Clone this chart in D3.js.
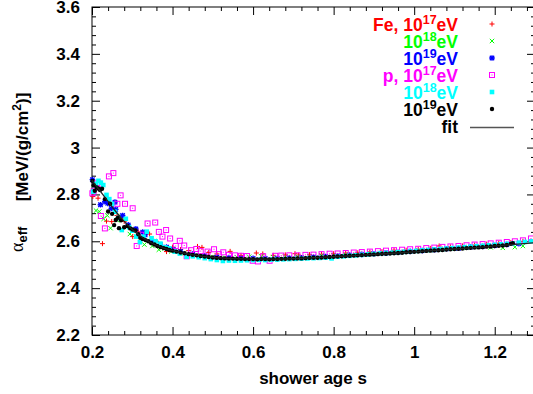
<!DOCTYPE html>
<html>
<head>
<meta charset="utf-8">
<script src="https://cdn.jsdelivr.net/npm/d3@7"></script>
<style>
  body { margin: 0; background: #fff; }
  text { font-family: "Liberation Sans", Arial, sans-serif; font-weight: bold; }
</style>
</head>
<body>
<svg id="chart" width="533" height="394"></svg>
<script>
// ---- data ----
const xTicks = [0.2, 0.4, 0.6, 0.8, 1.0, 1.2];
const yTicks = [2.2, 2.4, 2.6, 2.8, 3.0, 3.2, 3.4, 3.6];

// Fe, 10^17 eV
const fe17Age = [0.202, 0.215, 0.226, 0.236, 0.249, 0.262, 0.280, 0.301, 0.315, 0.343, 0.360, 0.385, 0.400, 0.420, 0.440, 0.462, 0.473, 0.490, 0.510, 0.543, 0.570, 0.608, 0.624, 0.650, 0.680, 0.704, 0.713, 0.740, 0.770, 0.800, 0.830, 0.860, 0.890, 0.920, 0.950, 0.980, 1.010, 1.040, 1.062, 1.090, 1.120, 1.150, 1.180, 1.210, 1.240, 1.270];
const fe17Alpha = [2.791, 2.784, 2.590, 2.686, 2.684, 2.710, 2.685, 2.620, 2.640, 2.631, 2.600, 2.556, 2.575, 2.565, 2.560, 2.578, 2.574, 2.552, 2.546, 2.557, 2.540, 2.550, 2.546, 2.540, 2.542, 2.547, 2.541, 2.543, 2.545, 2.547, 2.550, 2.551, 2.554, 2.556, 2.562, 2.562, 2.566, 2.570, 2.580, 2.576, 2.580, 2.584, 2.588, 2.592, 2.595, 2.600];

// Fe, 10^18 eV
const fe18Age = [0.210, 0.218, 0.229, 0.238, 0.246, 0.262, 0.274, 0.285, 0.294, 0.310, 0.330, 0.350, 0.366, 0.380, 0.397, 0.420, 0.445, 0.470, 0.500, 0.530, 0.560, 0.590, 0.620, 0.650, 0.680, 0.710, 0.740, 0.770, 0.800, 0.830, 0.860, 0.890, 0.920, 0.950, 0.980, 1.010, 1.040, 1.070, 1.100, 1.130, 1.160, 1.190, 1.220, 1.250, 1.270];
const fe18Alpha = [2.731, 2.727, 2.696, 2.710, 2.656, 2.690, 2.706, 2.660, 2.631, 2.620, 2.586, 2.580, 2.564, 2.570, 2.557, 2.550, 2.545, 2.538, 2.533, 2.530, 2.532, 2.534, 2.536, 2.532, 2.534, 2.535, 2.536, 2.539, 2.541, 2.543, 2.546, 2.548, 2.551, 2.553, 2.556, 2.560, 2.563, 2.566, 2.570, 2.573, 2.577, 2.574, 2.572, 2.575, 2.580];

// Fe, 10^19 eV
const fe19Age = [0.201, 0.207, 0.221, 0.232, 0.239, 0.248, 0.257, 0.259, 0.276, 0.290, 0.309, 0.326, 0.332, 0.350, 0.370, 0.385, 0.402, 0.420, 0.450, 0.480, 0.510, 0.540, 0.570, 0.600, 0.630, 0.660, 0.690, 0.720, 0.750, 0.780, 0.810, 0.840, 0.870, 0.900, 0.930, 0.960, 0.990, 1.020, 1.050, 1.080, 1.110, 1.140, 1.170, 1.200, 1.230, 1.260];
const fe19Alpha = [2.863, 2.840, 2.756, 2.769, 2.762, 2.740, 2.767, 2.736, 2.710, 2.670, 2.653, 2.639, 2.627, 2.600, 2.585, 2.575, 2.565, 2.556, 2.546, 2.538, 2.532, 2.529, 2.527, 2.527, 2.527, 2.527, 2.529, 2.530, 2.533, 2.535, 2.538, 2.541, 2.544, 2.547, 2.550, 2.553, 2.557, 2.560, 2.564, 2.568, 2.570, 2.575, 2.578, 2.582, 2.586, 2.590];

// p, 10^17 eV
const p17Age = [0.201, 0.204, 0.212, 0.219, 0.222, 0.232, 0.242, 0.253, 0.263, 0.271, 0.282, 0.301, 0.311, 0.322, 0.338, 0.357, 0.366, 0.375, 0.384, 0.394, 0.408, 0.418, 0.429, 0.435, 0.446, 0.459, 0.470, 0.487, 0.503, 0.515, 0.526, 0.540, 0.555, 0.570, 0.585, 0.599, 0.612, 0.625, 0.641, 0.655, 0.670, 0.690, 0.710, 0.730, 0.750, 0.770, 0.790, 0.810, 0.830, 0.850, 0.870, 0.890, 0.910, 0.930, 0.950, 0.970, 0.990, 1.010, 1.030, 1.050, 1.070, 1.090, 1.110, 1.130, 1.150, 1.170, 1.190, 1.210, 1.230, 1.250, 1.270, 1.290];
const p17Alpha = [2.805, 2.813, 2.847, 2.846, 2.708, 2.655, 2.877, 2.891, 2.760, 2.796, 2.760, 2.741, 2.580, 2.628, 2.676, 2.680, 2.640, 2.620, 2.648, 2.612, 2.580, 2.602, 2.582, 2.536, 2.562, 2.567, 2.558, 2.556, 2.566, 2.545, 2.553, 2.542, 2.540, 2.538, 2.537, 2.517, 2.514, 2.536, 2.517, 2.538, 2.539, 2.540, 2.540, 2.542, 2.543, 2.545, 2.547, 2.548, 2.550, 2.552, 2.554, 2.556, 2.558, 2.560, 2.562, 2.564, 2.566, 2.568, 2.571, 2.573, 2.576, 2.578, 2.580, 2.583, 2.586, 2.588, 2.591, 2.594, 2.597, 2.600, 2.604, 2.612];

// p, 10^18 eV
const p18Age = [0.203, 0.209, 0.216, 0.222, 0.228, 0.236, 0.243, 0.250, 0.257, 0.265, 0.274, 0.284, 0.292, 0.300, 0.310, 0.319, 0.328, 0.336, 0.348, 0.358, 0.370, 0.381, 0.392, 0.405, 0.418, 0.435, 0.450, 0.465, 0.480, 0.495, 0.510, 0.525, 0.540, 0.555, 0.570, 0.585, 0.600, 0.615, 0.630, 0.645, 0.660, 0.675, 0.690, 0.705, 0.720, 0.735, 0.750, 0.765, 0.780, 0.795, 0.810, 0.825, 0.840, 0.855, 0.870, 0.885, 0.900, 0.915, 0.930, 0.945, 0.960, 0.975, 0.990, 1.005, 1.020, 1.035, 1.050, 1.065, 1.080, 1.095, 1.110, 1.125, 1.140, 1.155, 1.170, 1.185, 1.200, 1.215, 1.230, 1.245, 1.260, 1.275, 1.290];
const p18Alpha = [2.812, 2.845, 2.858, 2.850, 2.840, 2.798, 2.780, 2.760, 2.726, 2.700, 2.648, 2.696, 2.660, 2.645, 2.620, 2.596, 2.620, 2.641, 2.613, 2.600, 2.590, 2.574, 2.570, 2.556, 2.548, 2.534, 2.536, 2.532, 2.528, 2.524, 2.520, 2.516, 2.518, 2.517, 2.518, 2.519, 2.520, 2.521, 2.520, 2.522, 2.522, 2.523, 2.524, 2.525, 2.526, 2.527, 2.528, 2.529, 2.530, 2.527, 2.534, 2.536, 2.538, 2.540, 2.542, 2.544, 2.546, 2.548, 2.550, 2.551, 2.553, 2.555, 2.557, 2.559, 2.561, 2.563, 2.565, 2.567, 2.569, 2.571, 2.573, 2.575, 2.577, 2.579, 2.581, 2.583, 2.585, 2.587, 2.589, 2.591, 2.594, 2.597, 2.600];

// p, 10^19 eV
const p19Age = [0.201, 0.204, 0.207, 0.212, 0.217, 0.220, 0.225, 0.232, 0.240, 0.245, 0.250, 0.255, 0.259, 0.264, 0.267, 0.272, 0.280, 0.288, 0.295, 0.301, 0.308, 0.315, 0.320, 0.326, 0.333, 0.340, 0.347, 0.355, 0.362, 0.370, 0.378, 0.385, 0.392, 0.40,
  0.41, 0.42, 0.43, 0.44, 0.45, 0.46, 0.47, 0.48, 0.49, 0.50, 0.51, 0.52, 0.53, 0.54, 0.55, 0.56, 0.57, 0.58, 0.59, 0.60,
  0.61, 0.62, 0.63, 0.64, 0.65, 0.66, 0.67, 0.68, 0.69, 0.70, 0.71, 0.72, 0.73, 0.74, 0.75, 0.76, 0.77, 0.78, 0.79, 0.80,
  0.81, 0.82, 0.83, 0.84, 0.85, 0.86, 0.87, 0.88, 0.89, 0.90, 0.91, 0.92, 0.93, 0.94, 0.95, 0.96, 0.97, 0.98, 0.99, 1.00,
  1.01, 1.02, 1.03, 1.04, 1.05, 1.06, 1.07, 1.08, 1.09, 1.10, 1.11, 1.12, 1.13, 1.14, 1.15, 1.16, 1.17, 1.18, 1.19, 1.20,
  1.21, 1.22, 1.23, 1.24, 1.245];
const p19Alpha = [2.858, 2.839, 2.816, 2.830, 2.824, 2.819, 2.824, 2.780, 2.727, 2.760, 2.717, 2.669, 2.691, 2.700, 2.656, 2.690, 2.660, 2.665, 2.655, 2.650, 2.646, 2.630, 2.615, 2.610, 2.605, 2.600, 2.592, 2.586, 2.580, 2.575, 2.571, 2.567, 2.563, 2.560,
  2.556, 2.552, 2.549, 2.545, 2.542, 2.540, 2.537, 2.535, 2.533, 2.531, 2.529, 2.528, 2.527, 2.526, 2.526, 2.525, 2.525, 2.524, 2.524, 2.524,
  2.523, 2.524, 2.524, 2.523, 2.524, 2.524, 2.525, 2.525, 2.526, 2.526, 2.527, 2.527, 2.528, 2.529, 2.530, 2.530, 2.531, 2.532, 2.533, 2.534,
  2.535, 2.536, 2.537, 2.538, 2.539, 2.540, 2.541, 2.542, 2.543, 2.544, 2.545, 2.546, 2.547, 2.548, 2.549, 2.550, 2.551, 2.553, 2.554, 2.555,
  2.556, 2.558, 2.559, 2.560, 2.561, 2.562, 2.563, 2.565, 2.566, 2.567, 2.568, 2.569, 2.571, 2.572, 2.573, 2.574, 2.575, 2.577, 2.578, 2.580,
  2.581, 2.582, 2.584, 2.589, 2.592];

// fit
const fitAge = [0.20, 0.22, 0.24, 0.26, 0.28, 0.30, 0.32, 0.34, 0.36, 0.38, 0.40, 0.45, 0.50, 0.55, 0.60, 0.65, 0.70, 0.75, 0.80, 0.85, 0.90, 0.95, 1.00, 1.05, 1.10, 1.15, 1.20, 1.25, 1.30];
const fitAlpha = [2.860, 2.815, 2.770, 2.725, 2.685, 2.650, 2.622, 2.600, 2.583, 2.570, 2.560, 2.542, 2.531, 2.526, 2.524, 2.524, 2.526, 2.530, 2.534, 2.539, 2.544, 2.549, 2.555, 2.561, 2.567, 2.573, 2.580, 2.587, 2.594];

// ---- chart ----
const margin = { top: 7, right: 0, bottom: 59, left: 92 };
const width = 443;
const height = 328;

const xScale = d3.scaleLinear().domain([0.2, 1.3]).range([0, width]);
const yScale = d3.scaleLinear().domain([2.2, 3.6]).range([height, 0]);

const svg = d3.select('#chart')
  .append('g')
    .attr('transform', `translate(${margin.left}, ${margin.top})`);

const fmt = d => +d.toFixed(1);
const xMinor = d3.range(0.2, 1.3001, 0.04).filter(v => !xTicks.some(t => Math.abs(t - v) < 1e-6));
const yMinor = d3.range(2.2, 3.6001, 0.04).filter(v => !yTicks.some(t => Math.abs(t - v) < 1e-6));

function axisStyle(g) {
  g.select('.domain').remove();
  g.selectAll('line').attr('stroke', '#000');
  g.selectAll('text').attr('fill', '#000').style('font-size', '17px');
}

// major axes with labels
svg.append('g').attr('transform', `translate(0,${height})`)
  .call(d3.axisBottom(xScale).tickValues(xTicks).tickSize(-8).tickPadding(11).tickFormat(fmt))
  .call(axisStyle);
svg.append('g')
  .call(d3.axisLeft(yScale).tickValues(yTicks).tickSize(-8).tickPadding(12).tickFormat(fmt))
  .call(axisStyle);
// mirrored majors
svg.append('g')
  .call(d3.axisTop(xScale).tickValues(xTicks).tickSize(-8).tickFormat(''))
  .call(axisStyle);
svg.append('g').attr('transform', `translate(${width},0)`)
  .call(d3.axisRight(yScale).tickValues(yTicks).tickSize(-8).tickFormat(''))
  .call(axisStyle);
// minors
svg.append('g').attr('transform', `translate(0,${height})`)
  .call(d3.axisBottom(xScale).tickValues(xMinor).tickSize(-4).tickFormat('')).call(axisStyle);
svg.append('g')
  .call(d3.axisTop(xScale).tickValues(xMinor).tickSize(-4).tickFormat('')).call(axisStyle);
svg.append('g')
  .call(d3.axisLeft(yScale).tickValues(yMinor).tickSize(-4).tickFormat('')).call(axisStyle);
svg.append('g').attr('transform', `translate(${width},0)`)
  .call(d3.axisRight(yScale).tickValues(yMinor).tickSize(-4).tickFormat('')).call(axisStyle);

svg.append('rect')
  .attr('width', width).attr('height', height)
  .attr('fill', 'none').attr('stroke', '#000');

// markers
function marker(sel, shape, color) {
  if (shape === 'plus') {
    sel.append('path').attr('d', 'M-2.5,0H2.5M0,-2.5V2.5').attr('stroke', color).attr('fill', 'none');
  } else if (shape === 'cross') {
    sel.append('path').attr('d', 'M-2.2,-2.2L2.2,2.2M-2.2,2.2L2.2,-2.2').attr('stroke', color).attr('fill', 'none');
  } else if (shape === 'star') {
    sel.append('path').attr('d', 'M-2.8,0H2.8M0,-2.8V2.8M-2.2,-2.2L2.2,2.2M-2.2,2.2L2.2,-2.2')
      .attr('stroke', color).attr('stroke-width', 1.3).attr('fill', 'none');
  } else if (shape === 'boxdot') {
    sel.append('rect').attr('x', -2.5).attr('y', -2.5).attr('width', 5).attr('height', 5)
      .attr('stroke', color).attr('fill', 'none');
    sel.append('rect').attr('x', -0.5).attr('y', -0.5).attr('width', 1).attr('height', 1).attr('fill', color);
  } else if (shape === 'box') {
    sel.append('rect').attr('x', -2.3).attr('y', -2.3).attr('width', 4.6).attr('height', 4.6).attr('fill', color);
  } else {
    sel.append('circle').attr('r', 2.2).attr('fill', color);
  }
}

const series = [
  { age: fe17Age, alpha: fe17Alpha, color: '#ff0000', shape: 'plus', pre: 'Fe, ', exp: '17' },
  { age: fe18Age, alpha: fe18Alpha, color: '#00ff00', shape: 'cross', pre: '', exp: '18' },
  { age: fe19Age, alpha: fe19Alpha, color: '#0000ff', shape: 'star', pre: '', exp: '19' },
  { age: p17Age, alpha: p17Alpha, color: '#ff00ff', shape: 'boxdot', pre: 'p, ', exp: '17' },
  { age: p18Age, alpha: p18Alpha, color: '#00ffff', shape: 'box', pre: '', exp: '18' },
  { age: p19Age, alpha: p19Alpha, color: '#000000', shape: 'circle', pre: '', exp: '19' }
];

const plot = svg.append('g');
series.forEach(s => {
  const pts = s.age.map((a, i) => ({ age: a, alpha: s.alpha[i] }));
  plot.append('g').selectAll('g')
    .data(pts)
    .enter()
    .append('g')
      .attr('transform', d => `translate(${xScale(d.age)},${yScale(d.alpha)})`)
      .each(function() { marker(d3.select(this), s.shape, s.color); });
});

const line = d3.line()
  .curve(d3.curveMonotoneX)
  .x(d => xScale(d.age))
  .y(d => yScale(d.alpha));

plot.append('path')
  .attr('d', line(fitAge.map((a, i) => ({ age: a, alpha: fitAlpha[i] }))))
  .attr('fill', 'none')
  .attr('stroke', '#222')
  .attr('stroke-width', 1.3);

// legend
const root = d3.select('#chart');
const legend = root.append('g');
series.forEach((s, i) => {
  const yb = 31 + i * 17;
  const t = legend.append('text')
    .attr('x', 458).attr('y', yb)
    .attr('text-anchor', 'end')
    .attr('fill', s.color)
    .style('font-size', '17.5px');
  t.append('tspan').text(s.pre + '10');
  t.append('tspan').attr('dy', -7).style('font-size', '12.5px').text(s.exp);
  t.append('tspan').attr('dy', 7).text('eV');
  const m = legend.append('g').attr('transform', `translate(492,${yb - 7})`);
  marker(m, s.shape, s.color);
});
legend.append('text')
  .attr('x', 458).attr('y', 133)
  .attr('text-anchor', 'end')
  .attr('fill', '#000')
  .style('font-size', '17.5px')
  .text('fit');
legend.append('line')
  .attr('x1', 470).attr('x2', 514).attr('y1', 127.5).attr('y2', 127.5)
  .attr('stroke', '#555').attr('stroke-width', 1.5);

// axis titles
root.append('text')
  .attr('x', 313).attr('y', 384)
  .attr('text-anchor', 'middle')
  .style('font-size', '17px')
  .text('shower age s');

const yl = root.append('text')
  .attr('transform', 'translate(23,252) rotate(-90)')
  .attr('text-anchor', 'start')
  .style('font-size', '18px');
yl.append('tspan').style('font-family', '"Liberation Serif", serif').style('font-weight', 'normal').text('α');
yl.append('tspan').attr('dy', 4).style('font-size', '13px').text('eff');

const yu = root.append('text')
  .attr('transform', 'translate(28,147) rotate(-90)')
  .attr('text-anchor', 'middle')
  .style('font-size', '17px');
yu.append('tspan').text('[MeV/(g/cm');
yu.append('tspan').attr('dy', -7).style('font-size', '12px').text('2');
yu.append('tspan').attr('dy', 7).text(')]');
</script>
</body>
</html>
